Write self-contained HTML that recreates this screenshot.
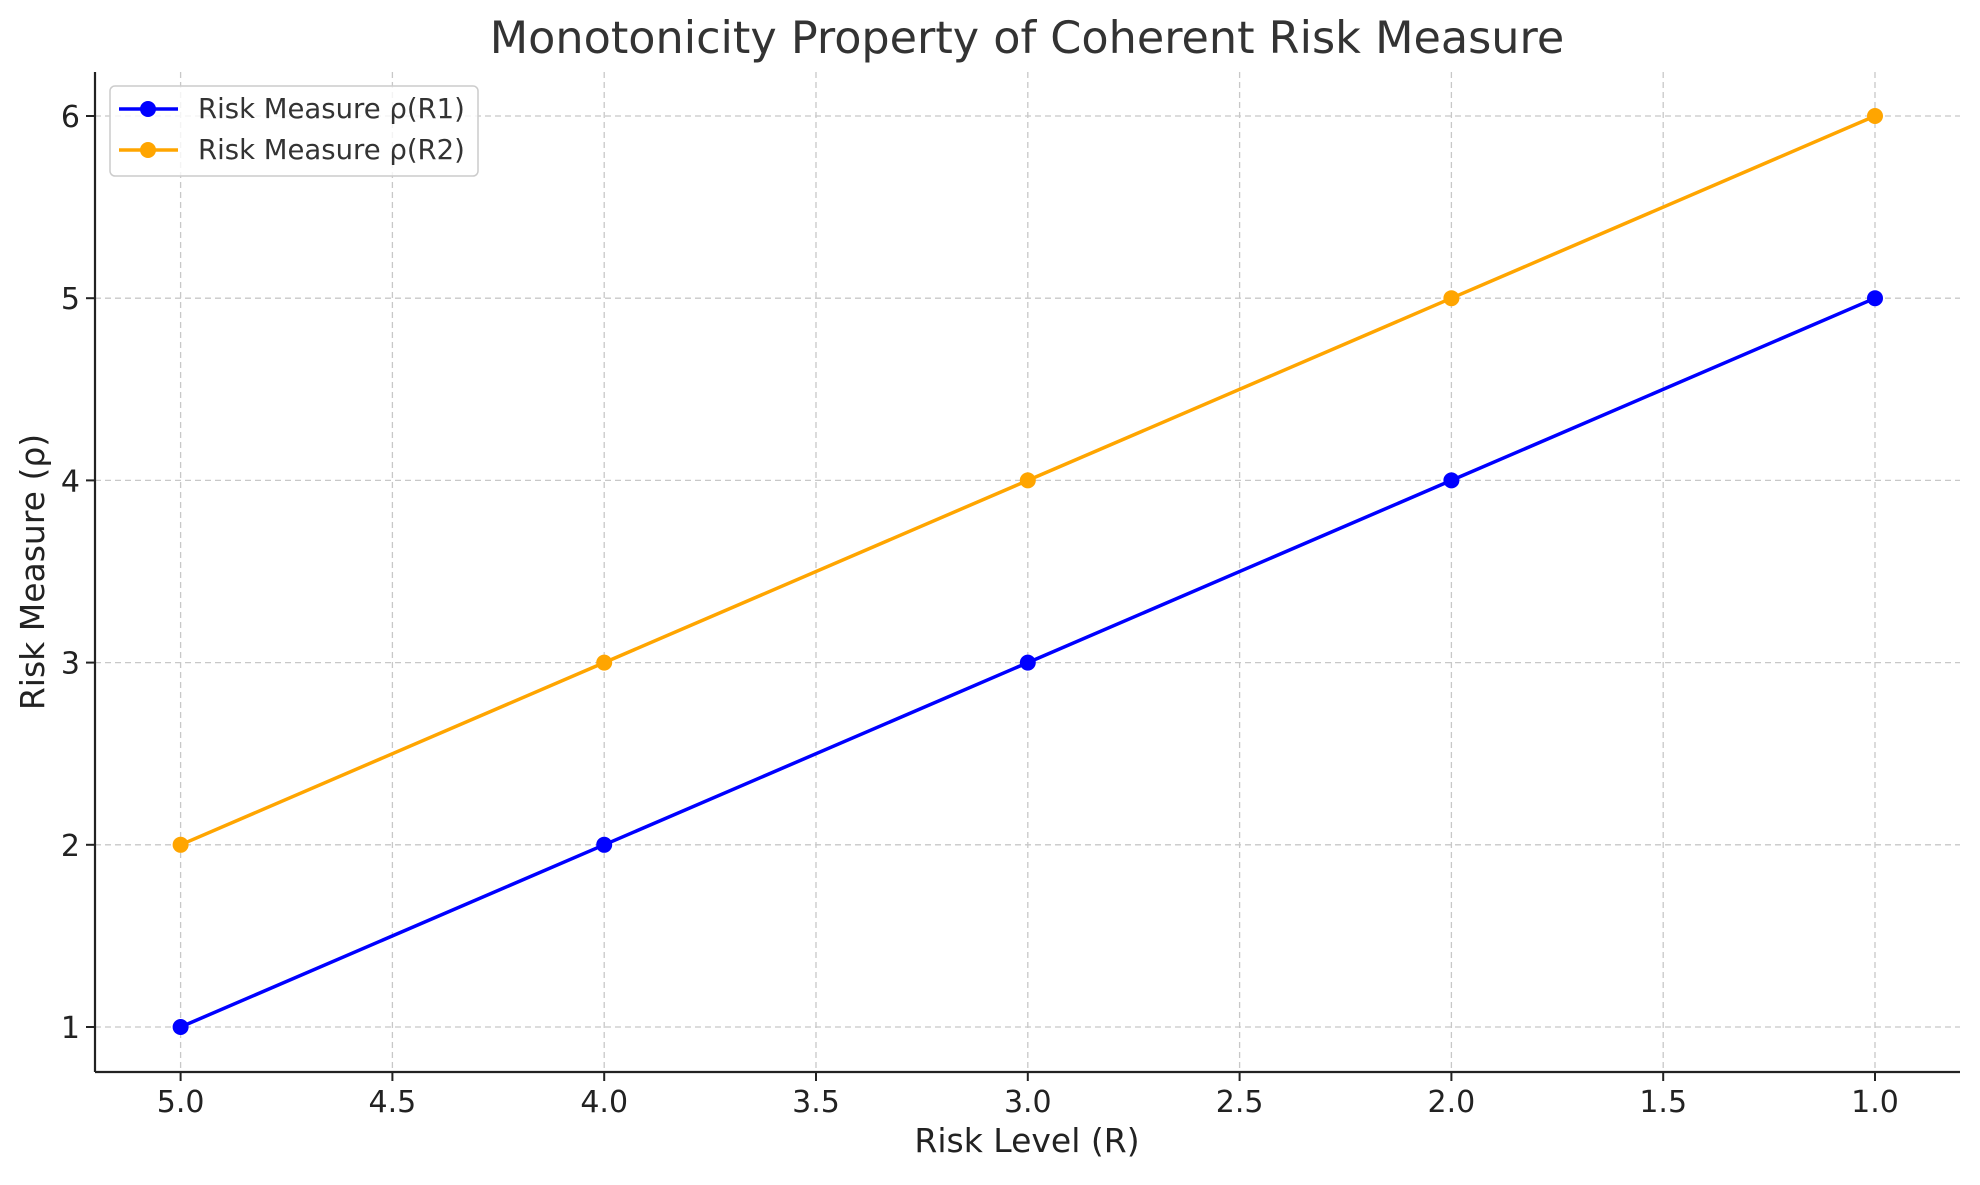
<!DOCTYPE html>
<html><head><meta charset="utf-8"><style>
body{margin:0;background:#fff}
svg text{font-family:"DejaVu Sans","Liberation Sans",sans-serif}
</style></head><body>
<svg id="chart" width="1980" height="1180" xmlns="http://www.w3.org/2000/svg">
<rect width="1980" height="1180" fill="#fff"/>
<text x="1027" y="53" text-anchor="middle" font-size="44.5" fill="#333">Monotonicity Property of Coherent Risk Measure</text>
<g id="grid"></g><g id="axes"></g><g id="series"></g>
<text x="1027" y="1152" text-anchor="middle" font-size="33" fill="#222">Risk Level (R)</text>
<text transform="translate(44,572) rotate(-90)" text-anchor="middle" font-size="33" fill="#222">Risk Measure (ρ)</text>
<g>
<rect x="110" y="86" width="368" height="90" rx="5" fill="#fff" fill-opacity="0.8" stroke="#ccc" stroke-width="1.5"/>
<line x1="119" y1="109" x2="178" y2="109" stroke="#0000ff" stroke-width="3.5"/><circle cx="148" cy="109" r="8" fill="#0000ff"/>
<text x="198" y="118" font-size="27.5" fill="#333">Risk Measure ρ(R1)</text>
<line x1="119" y1="150" x2="178" y2="150" stroke="#ffa500" stroke-width="3.5"/><circle cx="148" cy="150" r="8" fill="#ffa500"/>
<text x="198" y="159" font-size="27.5" fill="#333">Risk Measure ρ(R2)</text>
</g>
</svg>
<script>
const riskLevels=[5,4,3,2,1];
const rho1=[1,2,3,4,5];
const rho2=[2,3,4,5,6];
const xTicks=[5.0,4.5,4.0,3.5,3.0,2.5,2.0,1.5,1.0];
const yTicks=[1,2,3,4,5,6];
const NS='http://www.w3.org/2000/svg';
const L=95,R=1960,T=72,B=1072;
const xs=v=>180.6+(5-v)*(1875-180.6)/4;
const ys=v=>1027-(v-1)*(1027-116)/5;
function mk(tag,attrs,parent){const e=document.createElementNS(NS,tag);for(const k in attrs)e.setAttribute(k,attrs[k]);parent.appendChild(e);return e;}
const grid=document.getElementById('grid'),axes=document.getElementById('axes'),ser=document.getElementById('series');
xTicks.forEach(v=>{const x=xs(v);
const g=mk('line',{x1:x,x2:x,y1:T,y2:B,stroke:'#c8c8c8','stroke-width':1.3,'stroke-dasharray':'6,4'},grid);


mk('line',{x1:x,x2:x,y1:B,y2:B+9,stroke:'#222','stroke-width':2},axes);
const t=mk('text',{x:x,y:B+40,'text-anchor':'middle','font-size':30,fill:'#222'},axes);t.textContent=v.toFixed(1);

});
yTicks.forEach(v=>{const y=ys(v);
const g=mk('line',{x1:L,x2:R,y1:y,y2:y,stroke:'#c8c8c8','stroke-width':1.3,'stroke-dasharray':'6,4'},grid);


mk('line',{x1:L-9,x2:L,y1:y,y2:y,stroke:'#222','stroke-width':2},axes);
const t=mk('text',{x:L-15,y:y+11,'text-anchor':'end','font-size':30,fill:'#222'},axes);t.textContent=v;

});
mk('line',{x1:L,x2:L,y1:T,y2:B,stroke:'#222','stroke-width':2.2},axes);
mk('line',{x1:L,x2:R,y1:B,y2:B,stroke:'#222','stroke-width':2.2},axes);
function draw(vals,color,name){
const p=mk('polyline',{points:riskLevels.map((x,i)=>xs(x)+','+ys(vals[i])).join(' '),fill:'none',stroke:color,'stroke-width':3.5},ser);


riskLevels.forEach((x,i)=>{const c=mk('circle',{cx:xs(x),cy:ys(vals[i]),r:8,fill:color},ser);

});}
draw(rho2,'#ffa500','rho-r2');
draw(rho1,'#0000ff','rho-r1');
</script>
</body></html>
